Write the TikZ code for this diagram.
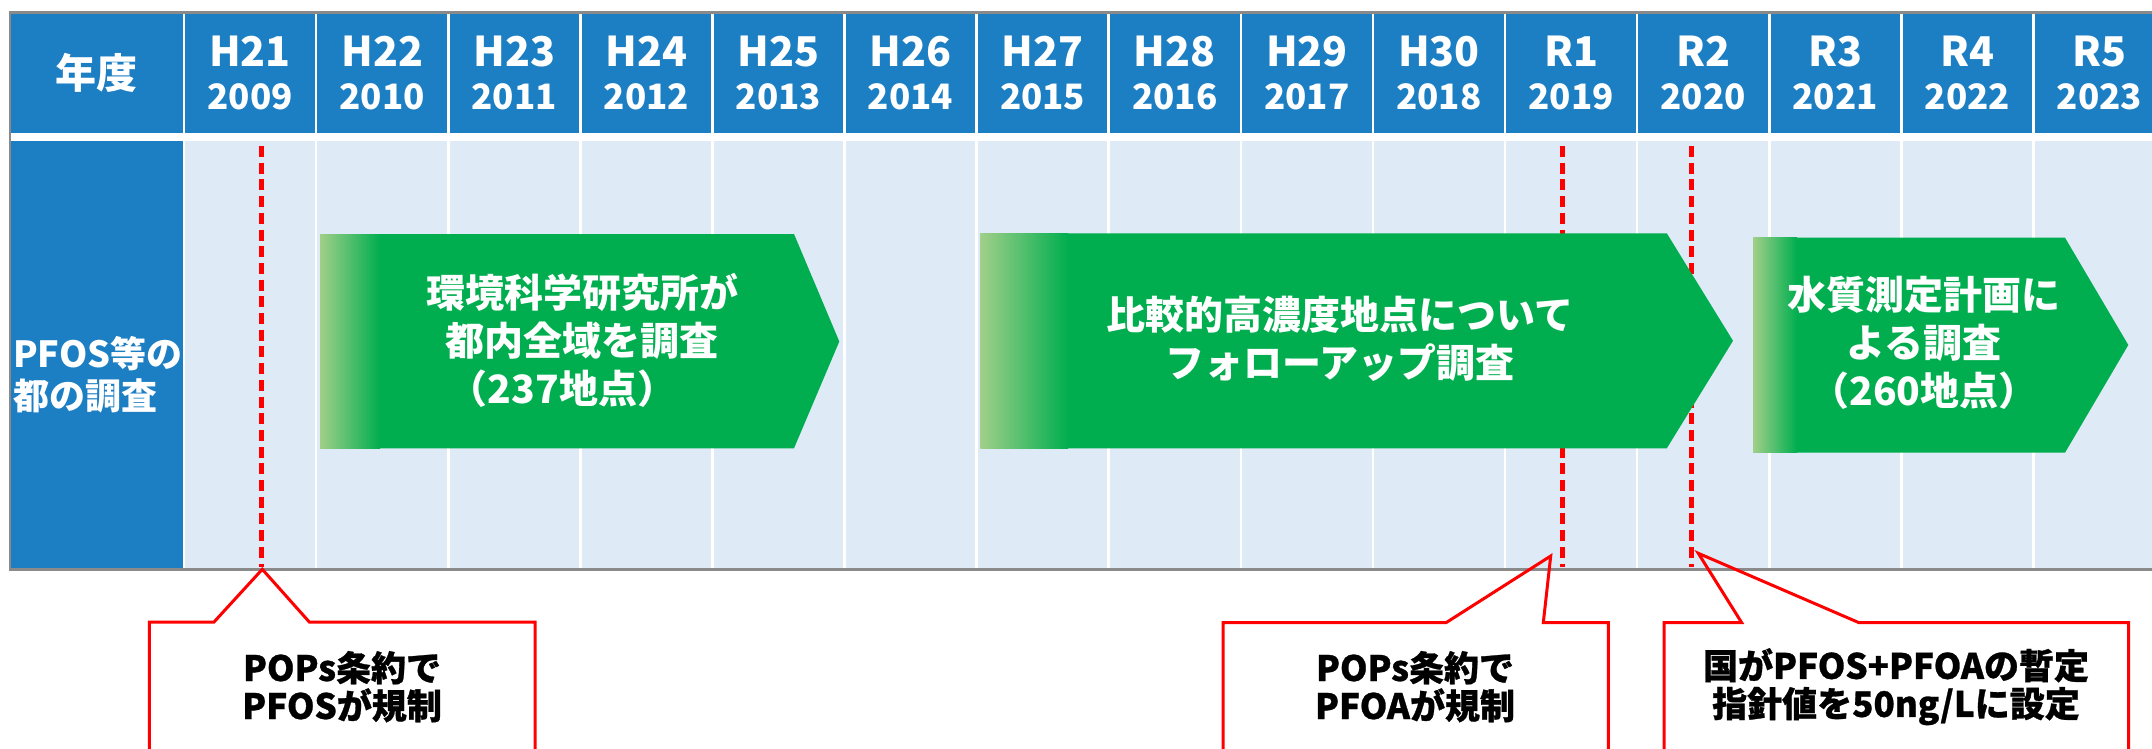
\documentclass[tikz,border=0pt]{standalone}
\usepackage{fontspec}
\setmainfont{Noto Sans CJK JP}
\newfontfamily\calfont{Noto Sans CJK JP}[BoldFeatures={FakeBold=0.8}]
\definecolor{hblue}{HTML}{1C7EC3}
\definecolor{lblue}{HTML}{DEEAF6}
\definecolor{ggreen}{HTML}{00AE4F}
\definecolor{lgreen}{HTML}{A0CF89}
\definecolor{framegray}{HTML}{8A8A8A}
\definecolor{cred}{HTML}{FF0000}
\tikzset{
  hdr/.style={text=white, font=\bfseries\fontsize{35}{43.3}\selectfont, align=center, inner sep=0pt},
  arrtext/.style={text=white, font=\bfseries\fontsize{39}{48}\selectfont, align=center, inner sep=0pt},
  calltext/.style={text=black, font=\calfont\bfseries\fontsize{35}{38}\selectfont, align=center, inner sep=0pt},
  callout/.style={draw=cred, line width=3pt, line join=miter},
  redline/.style={draw=cred, line width=4.6pt, dash pattern=on 11pt off 5.7pt},
  arrowshape/.style={fill=ggreen},
}
\begin{document}
\begin{tikzpicture}[x=1pt,y=-1pt]
\useasboundingbox (0,0) rectangle (2152,749);
\clip (0,0) rectangle (2152,749);
\fill[white] (0,0) rectangle (2152,749);
% table cells
\fill[hblue] (11,13) rectangle (182.7,132.7);
\fill[hblue] (11,141.3) rectangle (182.7,569);
\foreach \k in {0,...,14}{
  \fill[hblue] ({184+\k*132.1+1.3},13) rectangle ({184+(\k+1)*132.1-1.3},132.7);
  \fill[lblue] ({184+\k*132.1+1.3},141.3) rectangle ({184+(\k+1)*132.1-1.3},569);
}
% dashed red lines
\coordinate (d1t) at (261.3,146); \coordinate (d1b) at (261.3,567);
\coordinate (d2t) at (1562.7,146); \coordinate (d2b) at (1562.7,567);
\coordinate (d3t) at (1691.7,146); \coordinate (d3b) at (1691.7,567);
\draw[redline] (d1t) -- (d1b);
\draw[redline] (d2t) -- (d2b);
\draw[redline] (d3t) -- (d3b);
% arrows
\fill[arrowshape] (320,234) -- (794,234) -- (839.3,341.5) -- (794,448.3) -- (320,448.3) -- cycle;
\shade[left color=lgreen, right color=ggreen] (320,234) rectangle (380,448.3);
\fill[arrowshape] (980.6,233.3) -- (1666.8,233.3) -- (1733,340.8) -- (1666.8,448.3) -- (980.6,448.3) -- cycle;
\shade[left color=lgreen, right color=ggreen] (980.6,233.3) rectangle (1068,448.3);
\fill[arrowshape] (1753.3,237.7) -- (2065,237.7) -- (2128.3,345) -- (2065,452.7) -- (1753.3,452.7) -- cycle;
\shade[left color=lgreen, right color=ggreen] (1753.3,237.7) rectangle (1797,452.7);
% frame
\draw[framegray, line width=2.6pt] (10,12.6) rectangle (2200,569.5);
% header texts
\node[hdr, font=\bfseries\fontsize{41}{43}\selectfont] (hd) at (96.7,73) {年度};
\foreach \era/\yr [count=\i] in {H21/2009,H22/2010,H23/2011,H24/2012,H25/2013,H26/2014,H27/2015,H28/2016,H29/2017,H30/2018,R1/2019,R2/2020,R3/2021,R4/2022,R5/2023}{
  \node[hdr] (h\i) at ({184+(\i-0.5)*132.1},72.9) {{\fontsize{41}{43.3}\selectfont \era}\\\yr};
}
\node[text=white, font=\bfseries\fontsize{36}{42}\selectfont, align=left, inner sep=0pt, anchor=west] (lbl) at (13,374.5) {PFOS等の\\都の調査};
% arrow texts
\node[arrtext] (t1) at (582,340.9) {環境科学研究所が\\都内全域を調査\hspace*{1em}\\（237地点）\hspace*{1em}};
\node[arrtext] (t2) at (1340,339) {比較的高濃度地点について\\フォローアップ調査};
\node[arrtext] (t3) at (1924,343.3) {水質測定計画に\\よる調査\\（260地点）};
% callouts
\coordinate (p1) at (262.3,569.3);
\coordinate (p2) at (1550.7,556);
\coordinate (p3) at (1698.3,553.3);
\draw[callout] (149.3,780) -- (149.3,622) -- (214,622) -- (p1) -- (309.3,622) -- (535,622) -- (535,780);
\draw[callout] (1223,780) -- (1223,622.7) -- (1446,622.7) -- (p2) -- (1543.3,622.7) -- (1608.3,622.7) -- (1608.3,780);
\draw[callout] (1664,780) -- (1664,622.7) -- (1741.7,622.7) -- (p3) -- (1859,622.7) -- (2128.5,622.7) -- (2128.5,780);
\node[calltext] (c1) at (342,686.7) {POPs条約で\\PFOSが規制};
\node[calltext] (c2) at (1415,686.7) {POPs条約で\\PFOAが規制};
\node[calltext] (c3) at (1896,686.7) {国がPFOS+PFOAの暫定\\指針値を50ng/Lに設定};
\end{tikzpicture}
\end{document}
